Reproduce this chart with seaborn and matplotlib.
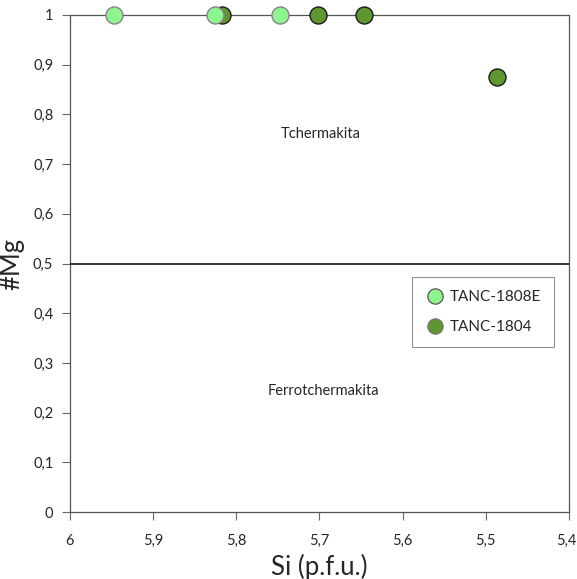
import matplotlib
matplotlib.use("Agg")
import matplotlib.pyplot as plt
import matplotlib.transforms as mtransforms
from matplotlib.ticker import FuncFormatter, MultipleLocator
from matplotlib.lines import Line2D
import seaborn as sns
import pandas as pd

# Amphibole analyses: Si (a.p.f.u.) vs Mg number
si_1808e = [5.947, 5.826, 5.747]
mg_1808e = [1.0, 1.0, 1.0]
si_1804 = [5.817, 5.702, 5.646, 5.486]
mg_1804 = [1.0, 1.0, 1.0, 0.876]
samples = ["TANC-1808E", "TANC-1804"]
colors = {"TANC-1808E": "#8ef58e", "TANC-1804": "#5e9630"}
edges = {"TANC-1808E": "#8a7f8f", "TANC-1804": "#1a1a1a"}
legend_edges = {"TANC-1808E": "#555555", "TANC-1804": "#777777"}

df = pd.DataFrame({
    "Si": si_1804 + si_1808e,
    "Mg": mg_1804 + mg_1808e,
    "sample": ["TANC-1804"] * len(si_1804) + ["TANC-1808E"] * len(si_1808e),
})

sns.set_theme(style="white")
plt.rcParams["font.family"] = ["Lato", "DejaVu Sans"]

fig = plt.figure(figsize=(5.77, 5.79), dpi=100)
ax = fig.add_axes([0.1213, 0.1157, 0.8648, 0.8584])

# draw each series so the lighter one sits on top
for name in ["TANC-1804", "TANC-1808E"]:
    sub = df[df["sample"] == name]
    sns.scatterplot(data=sub, x="Si", y="Mg", ax=ax, color=colors[name],
                    edgecolor=edges[name], linewidth=1.0, s=150,
                    zorder=5, clip_on=False, legend=False)

ax.axhline(0.5, color="black", lw=1.1, zorder=3)

ax.text(5.698, 0.76, "Tchermakita", ha="center", va="center", fontsize=10.5)
ax.text(5.695, 0.243, "Ferrotchermakita", ha="center", va="center", fontsize=10.5)

ax.set_xlim(6.0, 5.4)
ax.set_ylim(0, 1)
xticks = [6.0, 5.9, 5.8, 5.7, 5.6, 5.5, 5.4]
ax.set_xticks(xticks)
ax.yaxis.set_major_locator(MultipleLocator(0.1))
comma = FuncFormatter(lambda v, p: ("%g" % round(v, 2)).replace(".", ","))
ax.xaxis.set_major_formatter(comma)
ax.yaxis.set_major_formatter(comma)

ax.set_xlabel("Si (p.f.u.)", fontsize=18.5, labelpad=4)
ax.set_ylabel("#Mg", fontsize=18.5, labelpad=6)
ax.tick_params(axis="both", which="major", labelsize=10.5, length=6, width=0.8,
               color="#666666", direction="out", bottom=True, left=True, pad=10)
ax.tick_params(axis="y", pad=6)
for sp in ax.spines.values():
    sp.set_color("#555555")
    sp.set_linewidth(0.9)

# keep the last x tick label inside the figure edge
fig.canvas.draw()
last = ax.get_xticklabels()[-1]
last.set_horizontalalignment("right")
last.set_transform(last.get_transform() +
                   mtransforms.ScaledTranslation(0.075, 0, fig.dpi_scale_trans))

handles = [Line2D([], [], ls="none", marker="o", markersize=11,
                  markerfacecolor=colors[s], markeredgecolor=legend_edges[s],
                  markeredgewidth=0.9) for s in samples]
leg = ax.legend(handles, samples,
                loc="upper right", bbox_to_anchor=(0.970, 0.473),
                borderaxespad=0, fontsize=11, frameon=True, fancybox=False,
                edgecolor="#777777", borderpad=0.85, labelspacing=1.05,
                handletextpad=0.3, handlelength=1.3)
leg.get_frame().set_linewidth(0.8)

fig.savefig("out.png", dpi=100)
